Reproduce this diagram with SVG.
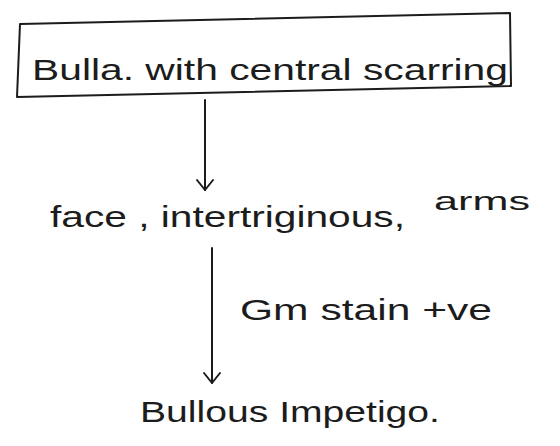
<svg xmlns="http://www.w3.org/2000/svg" width="560" height="446" viewBox="0 0 560 446">
<style>
.ink{fill:none;stroke:#1c1c1c;stroke-width:2;stroke-linecap:round;stroke-linejoin:round}
.t{font-family:"Liberation Sans","DejaVu Sans",sans-serif;fill:#1c1c1c}
</style>
<defs>
<marker id="ah" viewBox="0 0 20 20" refX="18" refY="10" markerWidth="20" markerHeight="20" markerUnits="userSpaceOnUse" orient="auto">
<path d="M8,2 L18,10 L8,18" fill="none" stroke="#1c1c1c" stroke-width="2" stroke-linecap="round" stroke-linejoin="round"/>
</marker>
</defs>
<rect width="560" height="446" fill="#ffffff"/>
<g id="node-bulla">
<path class="ink" d="M20,24 L510,13 L511,86 L17,97 Z"/>
<text class="t" x="32" y="80" font-size="30" textLength="476" lengthAdjust="spacingAndGlyphs">Bulla. with central scarring</text>
</g>
<g id="node-sites">
<text class="t" x="50" y="227" font-size="30" textLength="355" lengthAdjust="spacingAndGlyphs">face , intertriginous,</text>
<text class="t" x="434" y="210" font-size="26" textLength="96" lengthAdjust="spacingAndGlyphs">arms</text>
</g>
<g id="node-impetigo">
<text class="t" x="140" y="422" font-size="30" textLength="300" lengthAdjust="spacingAndGlyphs">Bullous Impetigo.</text>
</g>
<g id="connectors">
<path class="ink" d="M205,100 L205,190" marker-end="url(#ah)"/>
<path class="ink" d="M212,248 L212,383" marker-end="url(#ah)"/>
<text class="t" x="240" y="320" font-size="30" textLength="252" lengthAdjust="spacingAndGlyphs">Gm stain +ve</text>
</g>
</svg>
